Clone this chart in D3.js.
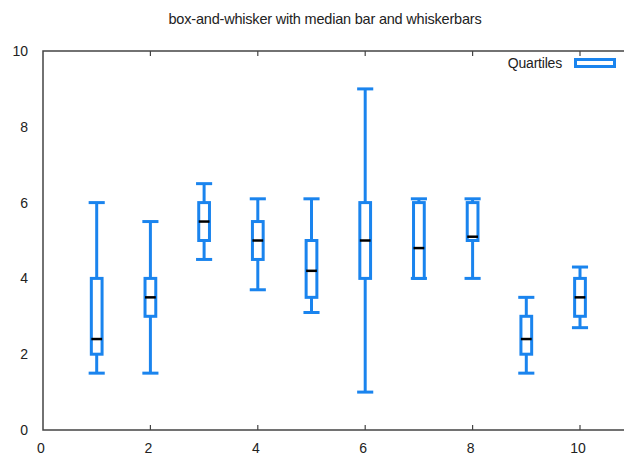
<!DOCTYPE html>
<html>
<head>
<meta charset="utf-8">
<script src="https://cdn.jsdelivr.net/npm/d3@7"></script>
<style>
  html, body { margin: 0; padding: 0; background: #fff; }
  svg { display: block; }
  text { font-family: "Liberation Sans", Arial, sans-serif; fill: #222; }
</style>
</head>
<body>
<script>
// Box-and-whisker data: one entry per x position
const positions = [1, 2, 3, 4, 5, 6, 7, 8, 9, 10];
const minimums  = [1.5, 1.5, 4.5, 3.7, 3.1, 1.0, 4.0, 4.0, 1.5, 2.7];
const lowerQ    = [2.0, 3.0, 5.0, 4.5, 3.5, 4.0, 4.0, 5.0, 2.0, 3.0];
const medians   = [2.4, 3.5, 5.5, 5.0, 4.2, 5.0, 4.8, 5.1, 2.4, 3.5];
const upperQ    = [4.0, 4.0, 6.0, 5.5, 5.0, 6.0, 6.0, 6.0, 3.0, 4.0];
const maximums  = [6.0, 5.5, 6.5, 6.1, 6.1, 9.0, 6.1, 6.1, 3.5, 4.3];

const xTicks = [0, 2, 4, 6, 8, 10];
const yTicks = [0, 2, 4, 6, 8, 10];

const titleText = "box-and-whisker with median bar and whiskerbars";
const legendText = "Quartiles";

const W = 624, H = 455;
const margin = { left: 43, top: 51, bottom: 25 };
const boxColor = "#1a84ee";

const x = d3.scaleLinear().domain([0, 11]).range([margin.left, margin.left + 11 * 53.7]);
const y = d3.scaleLinear().domain([0, 10]).range([H - margin.bottom, margin.top]);

const svg = d3.select("body").append("svg").attr("width", W).attr("height", H);

// title
svg.append("text")
  .attr("x", 325).attr("y", 24)
  .attr("text-anchor", "middle")
  .attr("font-size", 14.5)
  .attr("letter-spacing", -0.2)
  .text(titleText);

// frame (left, top, bottom)
const frame = svg.append("g").attr("stroke", "#444").attr("stroke-width", 1.5).attr("fill", "none");
frame.append("path")
  .attr("d", `M${x(11)},${y(10)}H${x(0)}V${y(0)}H${x(11)}`);

// x ticks on bottom and mirrored on top
const xt = svg.append("g").attr("stroke", "#444").attr("stroke-width", 1.2);
xTicks.filter(d => d > 0).forEach(d => {
  xt.append("line").attr("x1", x(d)).attr("x2", x(d)).attr("y1", y(0)).attr("y2", y(0) - 5);
  xt.append("line").attr("x1", x(d)).attr("x2", x(d)).attr("y1", y(10)).attr("y2", y(10) + 5);
});

// tick labels
svg.append("g").selectAll("text").data(xTicks).join("text")
  .attr("x", d => x(d) - 2).attr("y", y(0) + 23)
  .attr("text-anchor", "middle").attr("font-size", 14)
  .text(d => d);
svg.append("g").selectAll("text").data(yTicks).join("text")
  .attr("x", 28).attr("y", d => y(d) + 5)
  .attr("text-anchor", "end").attr("font-size", 14)
  .text(d => d);

// boxes
const rows = positions.map((p, i) => ({
  p, min: minimums[i], q1: lowerQ[i], med: medians[i], q3: upperQ[i], max: maximums[i]
}));
const boxHalf = 0.1, capHalf = 0.15;

const g = svg.append("g");
rows.forEach(r => {
  const cx = x(r.p);
  const bw = x(r.p + boxHalf) - cx;
  const cw = x(r.p + capHalf) - cx;
  const s = g.append("g").attr("stroke", boxColor).attr("stroke-width", 3).attr("fill", "none");
  // whiskers
  if (r.max > r.q3) s.append("line").attr("x1", cx).attr("x2", cx).attr("y1", y(r.q3)).attr("y2", y(r.max));
  if (r.min < r.q1) s.append("line").attr("x1", cx).attr("x2", cx).attr("y1", y(r.q1)).attr("y2", y(r.min));
  // whisker bars
  s.append("line").attr("x1", cx - cw).attr("x2", cx + cw).attr("y1", y(r.max)).attr("y2", y(r.max));
  s.append("line").attr("x1", cx - cw).attr("x2", cx + cw).attr("y1", y(r.min)).attr("y2", y(r.min));
  // box
  s.append("rect")
    .attr("x", cx - bw).attr("width", 2 * bw)
    .attr("y", y(r.q3)).attr("height", y(r.q1) - y(r.q3))
    .attr("fill", "#fff");
  // median bar
  g.append("line")
    .attr("x1", cx - bw).attr("x2", cx + bw)
    .attr("y1", y(r.med)).attr("y2", y(r.med))
    .attr("stroke", "#000").attr("stroke-width", 2.5);
});

// legend
svg.append("text")
  .attr("x", 562).attr("y", 68)
  .attr("text-anchor", "end").attr("font-size", 14)
  .attr("letter-spacing", -0.2)
  .text(legendText);
svg.append("rect")
  .attr("x", 575.5).attr("y", 59.5).attr("width", 39).attr("height", 7)
  .attr("fill", "#fff").attr("stroke", boxColor).attr("stroke-width", 3);
</script>
</body>
</html>
